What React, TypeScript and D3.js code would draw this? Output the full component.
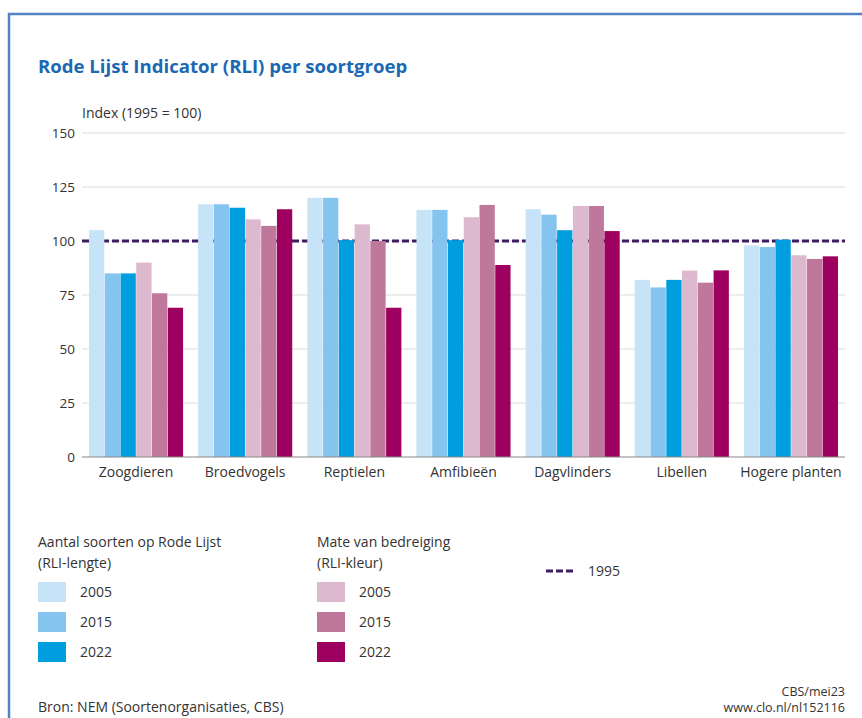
import React, { useEffect, useRef } from 'react';
import * as d3 from 'd3';

const categories = ['Zoogdieren', 'Broedvogels', 'Reptielen', 'Amfibieën', 'Dagvlinders', 'Libellen', 'Hogere planten'];
const seriesKeys = ['len2005', 'len2015', 'len2022', 'kl2005', 'kl2015', 'kl2022'];
const seriesColors = ['#c7e3f7', '#85c4ee', '#009ddf', '#dcb9cf', '#bf779b', '#9e005f'];

// RLI-lengte (aantal soorten op Rode Lijst)
const len2005 = [105, 117, 120, 114.4, 114.7, 82, 98];
const len2015 = [85, 117, 120, 114.4, 112.2, 78.5, 97.2];
const len2022 = [85, 115.4, 100.4, 100.4, 105, 82, 100.6];
// RLI-kleur (mate van bedreiging)
const kl2005 = [90, 110, 107.7, 111, 116.2, 86.3, 93.4];
const kl2015 = [75.8, 107, 100, 116.7, 116.2, 80.7, 91.7];
const kl2022 = [69.1, 114.7, 69.1, 88.9, 104.6, 86.4, 92.9];

const yTicks = [0, 25, 50, 75, 100, 125, 150];
const baseline = 100;

const legendLength = ['2005', '2015', '2022'];
const legendColor = ['2005', '2015', '2022'];

const FONT = '"Open Sans", "Noto Sans", sans-serif';
const TEXT = '#333333';

const App = () => {
  const svgRef = useRef<SVGSVGElement>(null);

  useEffect(() => {
    const width = 862;
    const height = 718;
    const svg = d3.select(svgRef.current);
    svg.selectAll('*').remove();
    svg.attr('width', width).attr('height', height).style('font-family', FONT);

    // frame
    svg.append('rect').attr('width', width).attr('height', height).attr('fill', '#fff');
    svg.append('path')
      .attr('d', `M9,${height + 5} V14 H${width + 5}`)
      .attr('fill', 'none')
      .attr('stroke', '#5282c3')
      .attr('stroke-width', 2.5);

    svg.append('text')
      .attr('x', 38).attr('y', 73)
      .attr('fill', '#1b69b3')
      .style('font-size', '18.6px')
      .style('font-weight', 'bold')
      .text('Rode Lijst Indicator (RLI) per soortgroep');

    svg.append('text')
      .attr('x', 82).attr('y', 118)
      .attr('fill', TEXT)
      .style('font-size', '14px')
      .text('Index (1995 = 100)');

    const left = 82;
    const right = 845;
    const top = 133;
    const bottom = 457;

    const y = d3.scaleLinear().domain([0, 150]).range([bottom, top]);
    const x0 = d3.scaleBand().domain(categories).range([left, right]).paddingInner(0.138).paddingOuter(0.064);
    const x1 = d3.scaleBand().domain(seriesKeys).range([0, x0.bandwidth()]).paddingInner(0.03);

    const series: Record<string, number[]> = { len2005, len2015, len2022, kl2005, kl2015, kl2022 };
    const color = d3.scaleOrdinal<string, string>().domain(seriesKeys).range(seriesColors);

    // gridlines
    const grid = svg.append('g');
    grid.selectAll('line')
      .data(yTicks.filter(d => d > 0))
      .enter()
      .append('line')
      .attr('x1', left).attr('x2', right)
      .attr('y1', d => y(d)).attr('y2', d => y(d))
      .attr('stroke', '#dcdcdc')
      .attr('stroke-width', 1.2);

    grid.selectAll('text')
      .data(yTicks)
      .enter()
      .append('text')
      .attr('x', 75)
      .attr('y', d => y(d))
      .attr('dy', '0.35em')
      .attr('text-anchor', 'end')
      .attr('fill', TEXT)
      .style('font-size', '13.5px')
      .text(d => d);

    // 1995 reference line
    svg.append('line')
      .attr('x1', left).attr('x2', right)
      .attr('y1', y(baseline)).attr('y2', y(baseline))
      .attr('stroke', '#3d1c5f')
      .attr('stroke-width', 3)
      .attr('stroke-dasharray', '7,3');

    // bars
    const groups = svg.append('g')
      .selectAll('g')
      .data(categories)
      .enter()
      .append('g')
      .attr('transform', d => `translate(${x0(d)},0)`);

    groups.selectAll('rect')
      .data((d, i) => seriesKeys.map(k => ({ key: k, value: series[k][i] })))
      .enter()
      .append('rect')
      .attr('x', d => x1(d.key)!)
      .attr('y', d => y(d.value))
      .attr('width', x1.bandwidth())
      .attr('height', d => bottom - y(d.value))
      .attr('fill', d => color(d.key));

    // x axis
    svg.append('line')
      .attr('x1', left).attr('x2', right)
      .attr('y1', bottom).attr('y2', bottom)
      .attr('stroke', '#888')
      .attr('stroke-width', 1.2);

    svg.append('g')
      .selectAll('text')
      .data(categories)
      .enter()
      .append('text')
      .attr('x', d => x0(d)! + x0.bandwidth() / 2)
      .attr('y', 477)
      .attr('text-anchor', 'middle')
      .attr('fill', TEXT)
      .style('font-size', '14px')
      .text(d => d);

    // legend
    const legendBlock = (x: number, title1: string, title2: string, labels: string[], colors: string[]) => {
      const g = svg.append('g').attr('transform', `translate(${x},0)`);
      g.append('text').attr('x', 0).attr('y', 547).attr('fill', TEXT).style('font-size', '14px').text(title1);
      g.append('text').attr('x', 0).attr('y', 568).attr('fill', TEXT).style('font-size', '14px').text(title2);
      labels.forEach((lab, i) => {
        g.append('rect')
          .attr('x', 0).attr('y', 582 + i * 30)
          .attr('width', 28).attr('height', 20)
          .attr('fill', colors[i]);
        g.append('text')
          .attr('x', 42).attr('y', 592 + i * 30)
          .attr('dy', '0.35em')
          .attr('fill', TEXT)
          .style('font-size', '14px')
          .text(lab);
      });
    };
    legendBlock(38, 'Aantal soorten op Rode Lijst', '(RLI-lengte)', legendLength, seriesColors.slice(0, 3));
    legendBlock(317, 'Mate van bedreiging', '(RLI-kleur)', legendColor, seriesColors.slice(3));

    svg.append('line')
      .attr('x1', 546).attr('x2', 574)
      .attr('y1', 571).attr('y2', 571)
      .attr('stroke', '#3d1c5f')
      .attr('stroke-width', 3)
      .attr('stroke-dasharray', '7,3');
    svg.append('text')
      .attr('x', 588).attr('y', 571)
      .attr('dy', '0.35em')
      .attr('fill', TEXT)
      .style('font-size', '14px')
      .text('1995');

    // source
    svg.append('text')
      .attr('x', 38).attr('y', 712)
      .attr('fill', TEXT)
      .style('font-size', '14px')
      .text('Bron: NEM (Soortenorganisaties, CBS)');
    svg.append('text')
      .attr('x', 845).attr('y', 696)
      .attr('text-anchor', 'end')
      .attr('fill', TEXT)
      .style('font-size', '12.5px')
      .text('CBS/mei23');
    svg.append('text')
      .attr('x', 845).attr('y', 712)
      .attr('text-anchor', 'end')
      .attr('fill', TEXT)
      .style('font-size', '12.5px')
      .text('www.clo.nl/nl152116');
  }, []);

  return (
    <div style={{ position: 'absolute', left: 0, top: 0 }}>
      <svg ref={svgRef}></svg>
    </div>
  );
};

export default App;
